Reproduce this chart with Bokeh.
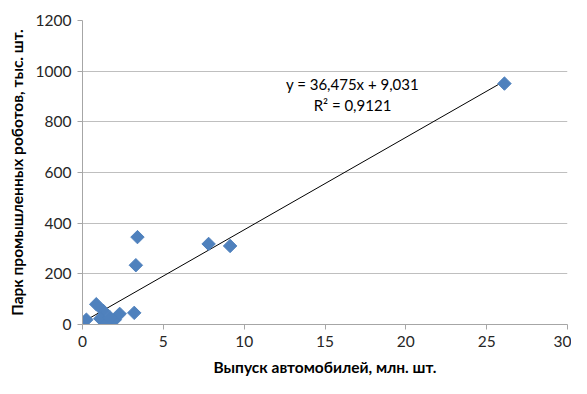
import numpy as np
from bokeh.plotting import figure
from bokeh.models import Label, FixedTicker, Range1d
from bokeh.embed import file_html
from bokeh.resources import INLINE

# data
cars = [26.1, 9.13, 7.8, 3.4, 3.3, 3.2, 0.24, 0.85, 1.28, 1.1, 1.52, 2.0, 2.3, 1.7]
robots = [951, 310, 318, 345, 234, 46, 19, 80, 54, 23, 4, 19, 42, 28]
slope = 36.475
intercept = 9.031
eq_text = "y = 36,475x + 9,031"
r2_text = "R² = 0,9121"
x_ticks = [0, 5, 10, 15, 20, 25, 30]
y_ticks = [0, 200, 400, 600, 800, 1000, 1200]
x_title = "Выпуск автомобилей, млн. шт."
y_title = "Парк промышленных роботов, тыс. шт."

FONT = "Lato"
p = figure(width=571, height=378, output_backend="svg", toolbar_location=None,
           x_range=Range1d(0, 30), y_range=Range1d(0, 1200),
           min_border_left=82, min_border_right=4, min_border_top=20, min_border_bottom=50)
p.outline_line_color = None
p.background_fill_color = "white"

p.xgrid.grid_line_color = None
p.ygrid.grid_line_color = "#bfbfbf"
p.ygrid.grid_line_width = 1

for ax in (p.xaxis[0], p.yaxis[0]):
    ax.axis_line_color = "#a6a6a6"
    ax.major_tick_line_color = "#a6a6a6"
    ax.minor_tick_line_color = None
    ax.major_tick_out = 5
    ax.major_tick_in = 0
    ax.major_label_text_font = FONT
    ax.major_label_text_font_size = "15.5px"
    ax.major_label_text_color = "#262626"
    ax.axis_label_text_font = FONT
    ax.axis_label_text_font_size = "15.5px"
    ax.axis_label_text_font_style = "bold"
    ax.axis_label_text_color = "#000000"

p.xaxis.ticker = FixedTicker(ticks=x_ticks)
p.yaxis.ticker = FixedTicker(ticks=y_ticks)
p.xaxis.axis_label = x_title
p.yaxis.axis_label = y_title
p.xaxis.major_label_standoff = 6
p.xaxis.axis_label_standoff = 8
p.yaxis.major_label_standoff = 6
p.yaxis.axis_label_standoff = 7

# trend line
xmin, xmax = min(cars), max(cars)
p.line([xmin, xmax], [slope * xmin + intercept, slope * xmax + intercept],
       line_color="black", line_width=1)

p.scatter(cars, robots, marker="square", size=9.5, angle=np.pi / 4,
          fill_color="#4f81bd", line_color="#4f81bd")

p.add_layout(Label(x=16.7, y=951, text=eq_text, text_align="center", text_baseline="middle",
                   text_font=FONT, text_font_size="15px", text_color="#000000"))
p.add_layout(Label(x=16.7, y=867, text=r2_text, text_align="center", text_baseline="middle",
                   text_font=FONT, text_font_size="15px", text_color="#000000"))

open("out.html", "w").write(file_html(p, INLINE))
